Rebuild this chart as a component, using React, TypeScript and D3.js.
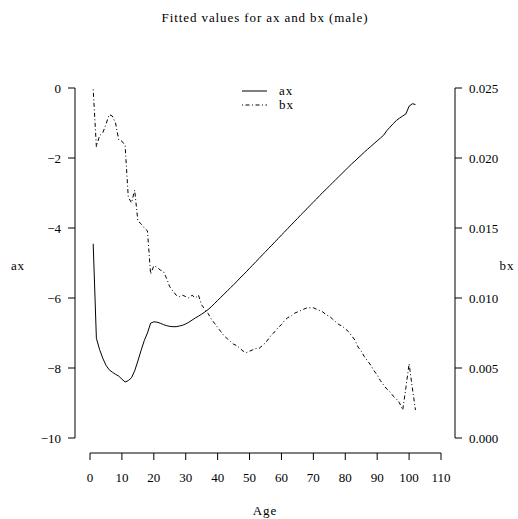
import React from "react";
import * as d3 from "d3";

const ages: number[] = d3.range(1, 103);

const axValues: number[] = [
  -4.45, -7.15, -7.47, -7.72, -7.92, -8.05, -8.12, -8.18, -8.23, -8.32,
  -8.40, -8.36, -8.28, -8.08, -7.80, -7.50, -7.22, -7.00, -6.72, -6.68,
  -6.69, -6.72, -6.76, -6.79, -6.81, -6.82, -6.82, -6.80, -6.78, -6.74,
  -6.69, -6.63, -6.57, -6.52, -6.46, -6.40, -6.33, -6.25, -6.16, -6.07,
  -5.98, -5.89, -5.80, -5.71, -5.62, -5.53, -5.43, -5.34, -5.25, -5.15,
  -5.06, -4.96, -4.87, -4.77, -4.68, -4.58, -4.49, -4.39, -4.30, -4.20,
  -4.11, -4.01, -3.92, -3.82, -3.73, -3.63, -3.54, -3.45, -3.35, -3.26,
  -3.17, -3.07, -2.98, -2.89, -2.80, -2.71, -2.62, -2.53, -2.44, -2.35,
  -2.26, -2.17, -2.09, -2.00, -1.92, -1.83, -1.75, -1.67, -1.59, -1.51,
  -1.43, -1.35, -1.22, -1.12, -1.02, -0.93, -0.86, -0.80, -0.74, -0.52,
  -0.45, -0.47,
];

const bxValues: number[] = [
  0.0249, 0.0208, 0.0216, 0.0218, 0.0224, 0.0231, 0.0230, 0.0225, 0.0213, 0.0212,
  0.0209, 0.0172, 0.0168, 0.0177, 0.0155, 0.0153, 0.0150, 0.0148, 0.0117, 0.0123,
  0.0122, 0.0120, 0.0119, 0.0114, 0.0108, 0.0105, 0.0102, 0.0101, 0.0102, 0.0101,
  0.0100, 0.0102, 0.0100, 0.0102, 0.0095, 0.0092, 0.0089, 0.0085, 0.0082, 0.0079,
  0.0076, 0.0073, 0.0071, 0.0069, 0.0067, 0.0066, 0.0064, 0.0062, 0.0061, 0.0062,
  0.0063, 0.0064, 0.0064, 0.0066, 0.0068, 0.0071, 0.0074, 0.0076, 0.0079, 0.0081,
  0.0084, 0.0086, 0.0087, 0.0089, 0.0090, 0.0091, 0.0092, 0.0093, 0.0093, 0.0093,
  0.0092, 0.0091, 0.0090, 0.0088, 0.0087, 0.0085, 0.0083, 0.0081, 0.0080, 0.0078,
  0.0076, 0.0073, 0.0070, 0.0065, 0.0062, 0.0058, 0.0055, 0.0052, 0.0048, 0.0045,
  0.0041, 0.0038, 0.0035, 0.0033, 0.0030, 0.0028, 0.0025, 0.0020, 0.0036, 0.0053,
  0.0036, 0.0020,
];

const xTicks: number[] = d3.range(0, 111, 10);
const axTicks: number[] = [-10, -8, -6, -4, -2, 0];
const bxTicks: number[] = [0, 0.005, 0.01, 0.015, 0.02, 0.025];
const legendLabels: string[] = ["ax", "bx"];

const TITLE = "Fitted values for ax and bx (male)";
const FONT = "'Liberation Serif', 'Times New Roman', serif";

export default function App() {
  const W = 518;
  const H = 519;
  const x = d3.scaleLinear().domain([0, 110]).range([90, 441]);
  const yL = d3.scaleLinear().domain([-10, 0]).range([438, 88]);
  const yR = d3.scaleLinear().domain([0, 0.025]).range([438, 88]);

  const axLine = d3
    .line<number>()
    .x((_, i) => x(ages[i]))
    .y((d) => yL(d))(axValues) as string;
  const bxLine = d3
    .line<number>()
    .x((_, i) => x(ages[i]))
    .y((d) => yR(d))(bxValues) as string;

  const leftX = 75;
  const rightX = 455;
  const bottomY = 453;
  const tick = 7;
  const dash = "1,2.5,4,2.5";
  const ls = 0.9;
  const fmtL = (v: number) => (v < 0 ? "\u2212" + Math.abs(v) : String(v));
  const fmtR = d3.format(".3f");

  return (
    <svg
      width={W}
      height={H}
      style={{ position: "absolute", left: 0, top: 0, background: "#fff" }}
      fontFamily={FONT}
      fontSize={13}
    >
      <rect x={0} y={0} width={W} height={H} fill="#fff" />
      <text x={265} y={17} textAnchor="middle" dominantBaseline="central" letterSpacing={ls}>
        {TITLE}
      </text>

      {/* left axis */}
      <line x1={leftX} x2={leftX} y1={yL(-10)} y2={yL(0)} stroke="#000" />
      {axTicks.map((t) => (
        <g key={"l" + t}>
          <line x1={leftX - tick} x2={leftX} y1={yL(t)} y2={yL(t)} stroke="#000" />
          <text x={leftX - 14} y={yL(t)} textAnchor="end" dominantBaseline="central">
            {fmtL(t)}
          </text>
        </g>
      ))}
      <text x={18} y={265} textAnchor="middle" dominantBaseline="central" letterSpacing={ls}>
        ax
      </text>

      {/* right axis */}
      <line x1={rightX} x2={rightX} y1={yR(0)} y2={yR(0.025)} stroke="#000" />
      {bxTicks.map((t) => (
        <g key={"r" + t}>
          <line x1={rightX} x2={rightX + tick} y1={yR(t)} y2={yR(t)} stroke="#000" />
          <text x={rightX + 14} y={yR(t)} textAnchor="start" dominantBaseline="central">
            {fmtR(t)}
          </text>
        </g>
      ))}
      <text x={507} y={265} textAnchor="middle" dominantBaseline="central" letterSpacing={ls}>
        bx
      </text>

      {/* bottom axis */}
      <line x1={x(0)} x2={x(110)} y1={bottomY} y2={bottomY} stroke="#000" />
      {xTicks.map((t) => (
        <g key={"b" + t}>
          <line x1={x(t)} x2={x(t)} y1={bottomY} y2={bottomY + tick} stroke="#000" />
          <text x={x(t)} y={477} textAnchor="middle" dominantBaseline="central">
            {t}
          </text>
        </g>
      ))}
      <text x={265} y={510} textAnchor="middle" dominantBaseline="central" letterSpacing={ls}>
        Age
      </text>

      {/* series */}
      <path d={axLine} fill="none" stroke="#000" strokeWidth={1} />
      <path d={bxLine} fill="none" stroke="#000" strokeWidth={1} strokeDasharray={dash} />

      {/* legend */}
      {legendLabels.map((lab, i) => (
        <g key={lab}>
          <line
            x1={242}
            x2={267}
            y1={91 + i * 14}
            y2={91 + i * 14}
            stroke="#000"
            strokeDasharray={i === 1 ? dash : undefined}
          />
          <text x={279} y={90 + i * 14} dominantBaseline="central" letterSpacing={ls}>
            {lab}
          </text>
        </g>
      ))}
    </svg>
  );
}
